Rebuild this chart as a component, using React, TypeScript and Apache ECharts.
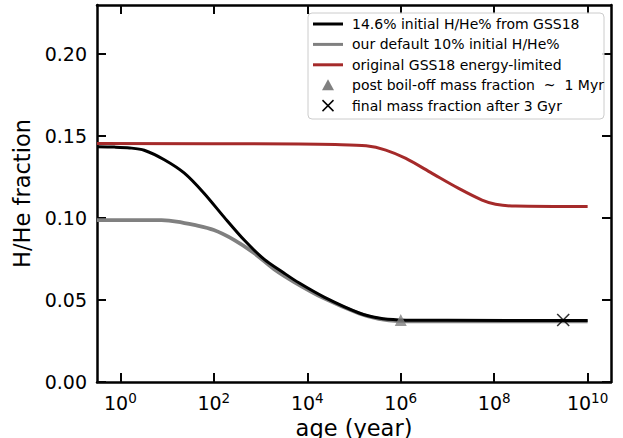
import React, { useEffect, useRef } from "react";
import * as echarts from "echarts";

// log10(age / year) and H/He fraction
const blackLogAge = [-0.5, -0.13, 0.2, 0.51, 0.94, 1.37, 1.79, 2.22, 2.65, 3.08, 3.5, 3.82, 4.36, 5.11, 5.53, 5.96, 7, 10];
const blackFrac = [0.1435, 0.1433, 0.1428, 0.1414, 0.1356, 0.1274, 0.1152, 0.1006, 0.0866, 0.0748, 0.0665, 0.0605, 0.0518, 0.0421, 0.039, 0.0379, 0.0376, 0.0375];

const grayLogAge = [-0.5, 0.5, 0.88, 1.2, 1.58, 2.0, 2.44, 2.86, 3.29, 3.72, 4.36, 5.11, 5.53, 5.96, 7, 10];
const grayFrac = [0.0988, 0.0988, 0.0987, 0.0979, 0.0958, 0.0927, 0.0866, 0.0787, 0.0688, 0.061, 0.051, 0.0418, 0.0385, 0.0372, 0.037, 0.037];

const redLogAge = [-0.5, 3.82, 4.6, 5.26, 5.68, 6.11, 6.67, 7.24, 7.74, 8.03, 8.46, 10];
const redFrac = [0.1455, 0.1452, 0.1449, 0.1441, 0.1415, 0.1364, 0.1273, 0.1181, 0.111, 0.1085, 0.1073, 0.107];

const boilOffLogAge = [6];
const boilOffFrac = [0.0378];
const finalLogAge = [Math.log10(3e9)];
const finalFrac = [0.0378];

const xTickExps = [0, 2, 4, 6, 8, 10];
const yTicks = [0, 0.05, 0.1, 0.15, 0.2];

const legendLabels = [
  "14.6% initial H/He% from GSS18",
  "our default 10% initial H/He%",
  "original GSS18 energy-limited",
  "post boil-off mass fraction  ~  1 Myr",
  "final mass fraction after 3 Gyr",
];

const FONT = '"DejaVu Sans", sans-serif';
const RED = "#a52a2a";
const GRAY = "#808080";
const TICK = "#050505";

const zip = (xs: number[], ys: number[]) => xs.map((x, i) => [x, ys[i]]);

export default function App() {
  const ref = useRef<HTMLDivElement>(null);
  useEffect(() => {
    if (!ref.current) return;
    const chart = echarts.init(ref.current, null, { renderer: "svg" });
    const lx = 308, ly = 13, rowH = 20.4;
    const rowY = (i: number) => ly + 11 + i * rowH;
    const graphics: any[] = [
      {
        type: "rect",
        z: 100,
        shape: { x: lx, y: ly, width: 296, height: 106, r: 4 },
        style: { fill: "rgba(255,255,255,0.85)", stroke: "#cccccc", lineWidth: 1 },
      },
    ];
    const lineCols = ["#000", GRAY, RED];
    lineCols.forEach((c, i) => {
      graphics.push({
        type: "line",
        z: 101,
        shape: { x1: 313, y1: rowY(i), x2: 343, y2: rowY(i) },
        style: { stroke: c, lineWidth: 3 },
      });
    });
    const ty = rowY(3);
    graphics.push({
      type: "polygon",
      z: 101,
      shape: { points: [[328, ty - 6], [322, ty + 5], [334, ty + 5]] },
      style: { fill: GRAY },
    });
    const cy = rowY(4);
    graphics.push({
      type: "line",
      z: 101,
      shape: { x1: 322.5, y1: cy - 5.5, x2: 333.5, y2: cy + 5.5 },
      style: { stroke: "#000", lineWidth: 1.5 },
    });
    graphics.push({
      type: "line",
      z: 101,
      shape: { x1: 322.5, y1: cy + 5.5, x2: 333.5, y2: cy - 5.5 },
      style: { stroke: "#000", lineWidth: 1.5 },
    });
    legendLabels.forEach((t, i) => {
      graphics.push({
        type: "text",
        z: 101,
        x: 352,
        y: rowY(i),
        style: { text: t, fontSize: 14, fontFamily: FONT, fill: "#000", verticalAlign: "middle" },
      });
    });

    const tick = (vals: number[]) => ({
      show: true,
      inside: true,
      length: 9,
      customValues: vals,
      lineStyle: { color: TICK, width: 2 },
    });
    const frameLine = () => ({ show: true, onZero: false, lineStyle: { color: "#000", width: 2.5 } });

    chart.setOption({
      animation: false,
      grid: {
        left: 97,
        right: 12,
        top: 5,
        bottom: 56,
        show: false,
        containLabel: false,
        outerBoundsMode: "none",
      },
      xAxis: [
        {
          type: "value",
          position: "bottom",
          min: -0.5,
          max: 10.5,
          name: "age (year)",
          nameLocation: "middle",
          nameGap: 28,
          nameTextStyle: { fontSize: 22.5, fontFamily: FONT, color: "#000" },
          axisLine: frameLine(),
          splitLine: { show: false },
          axisTick: tick(xTickExps),
          axisLabel: {
            customValues: xTickExps,
            margin: 9,
            formatter: (v: number) => `{b|10}{s|${Math.round(v)}}`,
            rich: {
              b: { fontSize: 19, fontFamily: FONT, color: "#000" },
              s: { fontSize: 13.5, fontFamily: FONT, color: "#000", padding: [0, 0, 9, 0] },
            },
          },
        },
        {
          type: "value",
          position: "top",
          min: -0.5,
          max: 10.5,
          axisLine: frameLine(),
          splitLine: { show: false },
          axisTick: tick(xTickExps),
          axisLabel: { show: false },
        },
      ],
      yAxis: [
        {
          type: "value",
          position: "left",
          min: 0,
          max: 0.23,
          name: "H/He fraction",
          nameLocation: "middle",
          nameGap: 62,
          nameTextStyle: { fontSize: 22.5, fontFamily: FONT, color: "#000" },
          axisLine: frameLine(),
          splitLine: { show: false },
          axisTick: tick(yTicks),
          axisLabel: {
            customValues: yTicks,
            margin: 10,
            fontSize: 19,
            fontFamily: FONT,
            color: "#000",
            formatter: (v: number) => v.toFixed(2),
          },
        },
        {
          type: "value",
          position: "right",
          min: 0,
          max: 0.23,
          axisLine: frameLine(),
          splitLine: { show: false },
          axisTick: tick(yTicks),
          axisLabel: { show: false },
        },
      ],
      graphic: graphics,
      series: [
        {
          type: "line",
          name: legendLabels[2],
          data: zip(redLogAge, redFrac),
          smooth: 0.3,
          showSymbol: false,
          lineStyle: { color: RED, width: 3 },
          z: 2,
        },
        {
          type: "line",
          name: legendLabels[1],
          data: zip(grayLogAge, grayFrac),
          smooth: 0.3,
          showSymbol: false,
          lineStyle: { color: GRAY, width: 3.8 },
          z: 2,
        },
        {
          type: "line",
          name: legendLabels[0],
          data: zip(blackLogAge, blackFrac),
          smooth: 0.3,
          showSymbol: false,
          lineStyle: { color: "#000", width: 3 },
          z: 3,
        },
        {
          type: "scatter",
          name: legendLabels[3],
          data: zip(boilOffLogAge, boilOffFrac),
          symbol: "triangle",
          symbolSize: [12, 12],
          itemStyle: { color: GRAY },
          z: 4,
        },
        {
          type: "scatter",
          name: legendLabels[4],
          data: zip(finalLogAge, finalFrac),
          symbol: "path://M0,0L10,10M10,0L0,10",
          symbolSize: 12,
          itemStyle: { color: "none", borderColor: "#000", borderWidth: 1.6 },
          z: 4,
        },
      ],
    });
    return () => chart.dispose();
  }, []);
  return (
    <div
      ref={ref}
      style={{ position: "fixed", left: 0, top: 0, width: 623, height: 438, background: "#fff" }}
    />
  );
}
